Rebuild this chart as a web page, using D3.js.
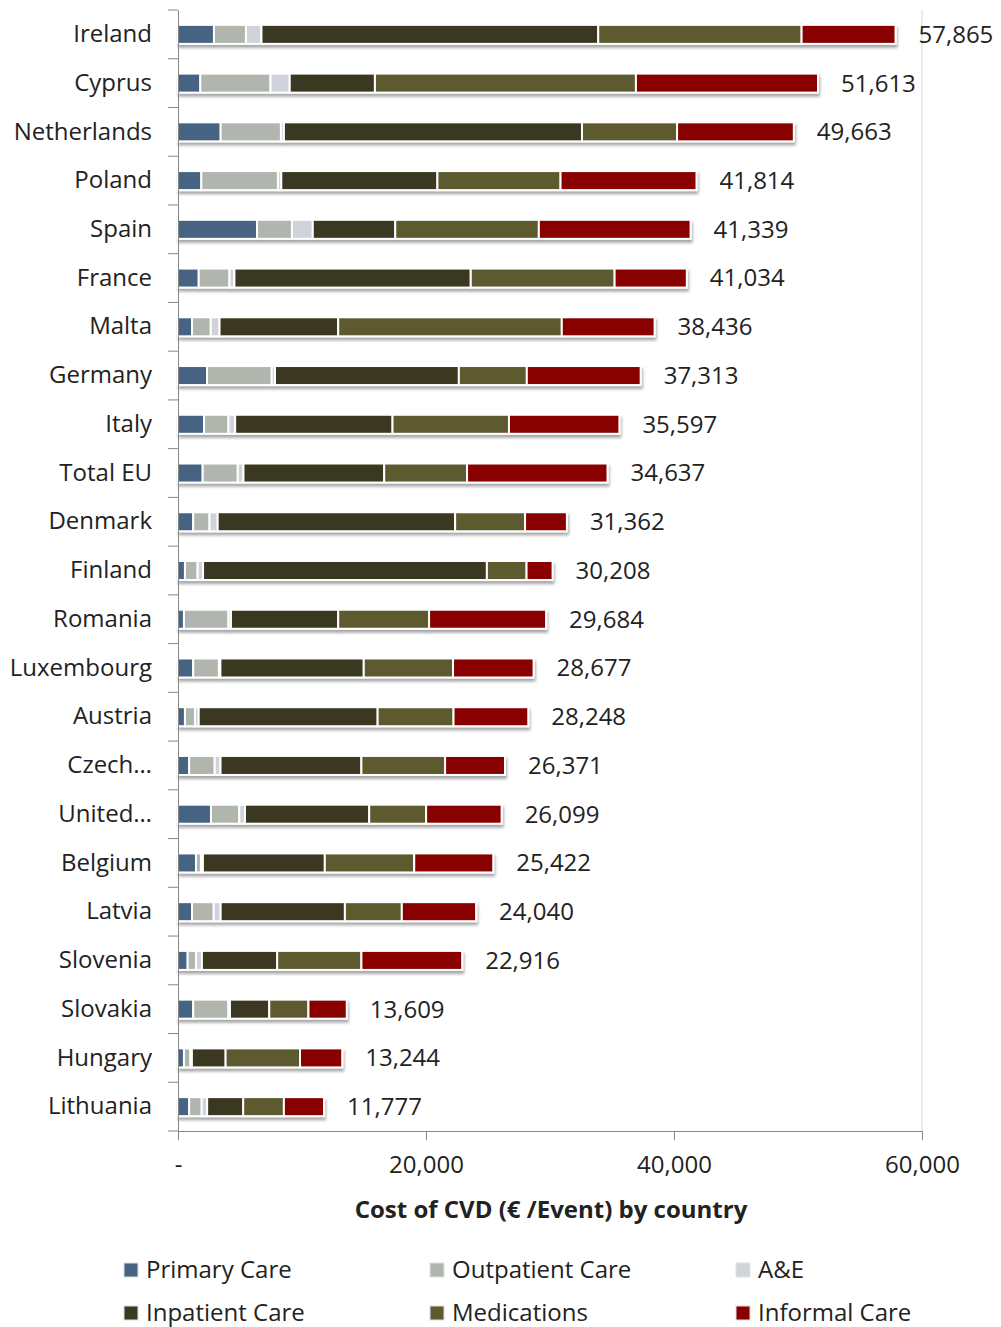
<!DOCTYPE html>
<html>
<head>
<meta charset="utf-8">
<script src="https://cdn.jsdelivr.net/npm/d3@7"></script>
<style>
    body { margin: 0; background: #fff; }
    text { font-family: "Open Sans", sans-serif; fill: #222; }
</style>
</head>
<body>
<div id="chart"></div>
<script>
// categories, top to bottom
const countries = ['Ireland', 'Cyprus', 'Netherlands', 'Poland', 'Spain', 'France', 'Malta', 'Germany',
    'Italy', 'Total EU', 'Denmark', 'Finland', 'Romania', 'Luxembourg', 'Austria', 'Czech…',
    'United…', 'Belgium', 'Latvia', 'Slovenia', 'Slovakia', 'Hungary', 'Lithuania'];

const seriesNames = ['Primary Care', 'Outpatient Care', 'A&E', 'Inpatient Care', 'Medications', 'Informal Care'];

// € per event
const primaryCare = [2900, 1800, 3440, 1880, 6370, 1670, 1130, 2340, 2100, 1990, 1230, 560,
    480, 1230, 560, 900, 2660, 1450, 1130, 780, 1230, 480, 900];
const outpatientCare = [2580, 5660, 4860, 6180, 2820, 2480, 1510, 5220, 1970, 2830, 1310, 1020,
    3590, 2070, 810, 2060, 2280, 400, 1750, 670, 2840, 520, 1010];
const aAndE = [1250, 1550, 240, 270, 1680, 400, 710, 260, 540, 460, 660, 440,
    200, 120, 300, 470, 460, 160, 560, 480, 120, 120, 440];
const inpatientCare = [27160, 6870, 24040, 12590, 6650, 19060, 9570, 14830, 12690, 11350, 19150, 22890,
    8650, 11560, 14430, 11360, 10020, 9830, 10020, 6070, 3170, 2720, 2910];
const medications = [16400, 21050, 7670, 9930, 11580, 11600, 18030, 5480, 9390, 6680, 5640, 3200,
    7330, 7200, 6120, 6750, 4590, 7210, 4590, 6790, 3160, 6000, 3280];
const informalCare = [7575, 14683, 9413, 10964, 12239, 5824, 7486, 9183, 8907, 11327, 3372, 2098,
    9434, 6497, 6028, 4831, 6089, 6372, 5990, 8126, 3089, 3404, 3237];

const xTicks = [0, 20000, 40000, 60000];

const colors = ['#466384', '#b0b6ad', '#d0d4da', '#3a3921', '#5c5a2e', '#880000'];

const width = 1001,
    height = 1327,
    margin = {top: 10, right: 79, bottom: 196, left: 178},
    fontSize = 24;

const chartWidth = width - margin.left - margin.right,
    chartHeight = height - margin.top - margin.bottom;

// build the table d3.stack wants
const allSeries = [primaryCare, outpatientCare, aAndE, inpatientCare, medications, informalCare];
const rows = countries.map((c, i) => {
    let row = {country: c};
    seriesNames.forEach((s, j) => { row[s] = allSeries[j][i]; });
    return row;
});

const stacked = d3.stack().keys(seriesNames)(rows);

const svg = d3.select('#chart').append('svg')
    .attr('width', width)
    .attr('height', height);

// soft shadow under each bar
const shadow = svg.append('defs').append('filter')
    .attr('id', 'shadow')
    .attr('x', '-5%').attr('y', '-40%')
    .attr('width', '110%').attr('height', '200%');
shadow.append('feDropShadow')
    .attr('dx', 1).attr('dy', 3)
    .attr('stdDeviation', 1.6)
    .attr('flood-color', '#000')
    .attr('flood-opacity', 0.35);

const g = svg.append('g')
    .attr('transform', `translate(${margin.left}, ${margin.top})`);

const scaleX = d3.scaleLinear().domain([0, 60000]).range([0, chartWidth]);
const scaleY = d3.scaleBand().domain(countries).range([0, chartHeight])
    .paddingInner(0.61).paddingOuter(0.305);
const scaleColor = d3.scaleOrdinal().domain(seriesNames).range(colors);

// right frame line at 60,000
g.append('line')
    .attr('x1', scaleX(60000)).attr('x2', scaleX(60000))
    .attr('y1', 0).attr('y2', chartHeight)
    .attr('stroke', '#d9d9d9');

// bars, one group per country
const barRows = g.selectAll('g.bar-row')
    .data(countries)
    .enter()
    .append('g')
    .attr('class', 'bar-row')
    .attr('filter', 'url(#shadow)');

barRows.selectAll('rect')
    .data((c, i) => stacked.map((layer) => ({key: layer.key, v: layer[i]})))
    .enter()
    .append('rect')
    .attr('x', (d) => scaleX(d.v[0]))
    .attr('y', (d) => scaleY(d.v.data.country))
    .attr('width', (d) => Math.max(0, scaleX(d.v[1]) - scaleX(d.v[0])))
    .attr('height', scaleY.bandwidth())
    .attr('fill', (d) => scaleColor(d.key))
    .attr('stroke', '#fff')
    .attr('stroke-width', 2);

// total labels at the end of each bar
g.selectAll('text.total')
    .data(rows)
    .enter()
    .append('text')
    .attr('class', 'total')
    .attr('x', (row) => scaleX(d3.sum(seriesNames, (s) => row[s])) + 23)
    .attr('y', (row) => scaleY(row.country) + scaleY.bandwidth() / 2)
    .attr('dy', '0.35em')
    .attr('font-size', fontSize)
    .text((row) => d3.format(',')(d3.sum(seriesNames, (s) => row[s])));

// y axis: labels plus separator ticks between categories
const yAxis = g.append('g')
    .call(d3.axisLeft(scaleY).tickSize(0).tickPadding(26));
yAxis.select('.domain').attr('stroke', '#868686');
yAxis.selectAll('text')
    .attr('font-size', fontSize)
    .attr('font-family', '"Open Sans", sans-serif')
    .attr('fill', '#222');

const step = scaleY.step();
g.selectAll('line.sep')
    .data(d3.range(countries.length + 1))
    .enter()
    .append('line')
    .attr('class', 'sep')
    .attr('x1', -10).attr('x2', 0)
    .attr('y1', (i) => i * step)
    .attr('y2', (i) => i * step)
    .attr('stroke', '#868686');

// x axis
const xAxis = g.append('g')
    .attr('transform', `translate(0, ${chartHeight})`)
    .call(d3.axisBottom(scaleX)
        .tickValues(xTicks)
        .tickSize(9)
        .tickPadding(16)
        .tickFormat((d) => d === 0 ? '-' : d3.format(',')(d)));
xAxis.select('.domain').attr('stroke', '#868686');
xAxis.selectAll('line').attr('stroke', '#868686');
xAxis.selectAll('text')
    .attr('font-size', fontSize)
    .attr('font-family', '"Open Sans", sans-serif')
    .attr('fill', '#222');

// axis title
svg.append('text')
    .attr('x', 551)
    .attr('y', 1210)
    .attr('text-anchor', 'middle')
    .attr('dy', '0.35em')
    .attr('font-size', 24)
    .attr('font-weight', 'bold')
    .text('Cost of CVD (€ /Event) by country');

// legend, 3 columns x 2 rows
const legend = svg.append('g')
    .selectAll('g')
    .data(seriesNames)
    .enter()
    .append('g')
    .attr('transform', (s, i) => `translate(${[124, 430, 736][i % 3]}, ${i < 3 ? 1270 : 1313})`);

legend.append('rect')
    .attr('x', 0)
    .attr('y', -7)
    .attr('width', 14)
    .attr('height', 14)
    .attr('fill', scaleColor)
    .attr('stroke', '#e0e0e0');

legend.append('text')
    .attr('x', 22)
    .attr('dy', '0.35em')
    .attr('font-size', fontSize)
    .text((s) => s);
</script>
</body>
</html>
